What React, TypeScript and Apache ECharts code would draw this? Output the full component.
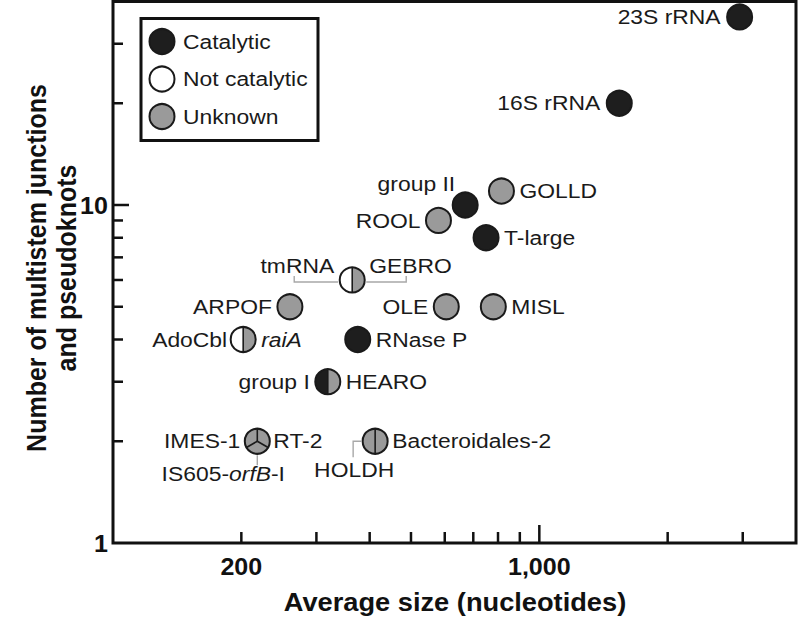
import React, { useEffect, useRef } from "react";
import * as echarts from "echarts";

// ---------- axes ----------
const X_MIN = 100;
const X_MAX = 4000;
const Y_MIN = 1;
const Y_MAX = 40;
const xTicks = [200, 300, 400, 500, 600, 700, 800, 900, 1000, 2000, 3000];
const yTicks = [2, 3, 4, 5, 6, 7, 8, 9, 10, 20, 30];
const xMajorTicks = [1000];
const yMajorTicks = [10];
const xTickLabels = [200, 1000];
const yTickLabels = [1, 10];

// ---------- legend ----------
const legendNames = ["Catalytic", "Not catalytic", "Unknown"];
const legendKeys = ["C", "N", "U"];

// ---------- data (one entry per plotted circle) ----------
const rnaSize = [2950, 1540, 670, 815, 580, 750, 364, 260, 605, 780, 202, 375, 319, 218, 412];
const junctionCount = [36, 20, 10, 11, 9, 8, 6, 5, 5, 5, 4, 4, 3, 2, 2];
const rnaClasses = [
  ["C"], ["C"], ["C"], ["U"], ["U"], ["C"], ["N", "U"], ["U"], ["U"], ["U"],
  ["N", "U"], ["C"], ["C", "U"], ["U", "U", "U"], ["U", "U"],
];
const rnaNames = [
  ["23S rRNA"], ["16S rRNA"], ["group II"], ["GOLLD"], ["ROOL"], ["T-large"],
  ["tmRNA", "GEBRO"], ["ARPOF"], ["OLE"], ["MISL"], ["AdoCbl", "raiA"], ["RNase P"],
  ["group I", "HEARO"], ["IMES-1", "RT-2", "IS605-orfB-I"], ["HOLDH", "Bacteroidales-2"],
];

// ---------- styling ----------
const FONT = "'Liberation Sans', Arial, Helvetica, sans-serif";
const STRETCH = 1.09;
const INK = "#1a1a1a";
const FILL: Record<string, string> = { C: "#1e1e1e", N: "#ffffff", U: "#9a9a9a" };
const R = 12.5;
const LABEL_SIZE = 21;

type Place = { dx: number; dy: number; align: "left" | "right" | "center" };
const labelPlacement: Record<string, Place> = {
  "23S rRNA": { dx: -19, dy: 0, align: "right" },
  "16S rRNA": { dx: -19, dy: 0, align: "right" },
  "group II": { dx: -10, dy: -21, align: "right" },
  GOLLD: { dx: 18, dy: 0, align: "left" },
  ROOL: { dx: -18, dy: 0, align: "right" },
  "T-large": { dx: 18, dy: 0, align: "left" },
  tmRNA: { dx: -18, dy: -14, align: "right" },
  GEBRO: { dx: 17, dy: -14, align: "left" },
  ARPOF: { dx: -18, dy: 0, align: "right" },
  OLE: { dx: -18, dy: 0, align: "right" },
  MISL: { dx: 18, dy: 0, align: "left" },
  AdoCbl: { dx: -16, dy: 0, align: "right" },
  raiA: { dx: 18, dy: 0, align: "left" },
  "RNase P": { dx: 18, dy: 0, align: "left" },
  "group I": { dx: -18, dy: 0, align: "right" },
  HEARO: { dx: 18, dy: 0, align: "left" },
  "IMES-1": { dx: -17, dy: 0, align: "right" },
  "RT-2": { dx: 16, dy: 0, align: "left" },
  "IS605-orfB-I": { dx: -34, dy: 33, align: "center" },
  HOLDH: { dx: -21, dy: 29, align: "center" },
  "Bacteroidales-2": { dx: 17, dy: 0, align: "left" },
};
const labelConnectors: Record<string, number[][]> = {
  tmRNA: [[-14, 2], [-58, 2], [-58, -4]],
  GEBRO: [[14, 2], [54, 2], [54, -4]],
  "IS605-orfB-I": [[0, 14], [0, 24]],
  HOLDH: [[-14, 0], [-22, 0], [-22, 16]],
};
const italicLabels = ["raiA"];
const richLabels: Record<string, string> = { "IS605-orfB-I": "{n|IS605-}{i|orfB}{n|-I}" };

function labelElement(name: string, cx: number, cy: number) {
  const p = labelPlacement[name];
  const rich = richLabels[name];
  const style: any = {
    text: rich || name,
    x: 0,
    y: 0,
    fill: INK,
    fontSize: LABEL_SIZE,
    fontFamily: FONT,
    fontStyle: italicLabels.includes(name) ? "italic" : "normal",
    align: p.align,
    verticalAlign: "middle",
  };
  if (rich) {
    style.rich = {
      n: { fontSize: LABEL_SIZE, fontFamily: FONT, fill: INK },
      i: { fontSize: LABEL_SIZE, fontFamily: FONT, fill: INK, fontStyle: "italic" },
    };
  }
  return { type: "text", x: cx + p.dx, y: cy + p.dy, scaleX: STRETCH, style };
}

function circleParts(cls: string[], cx: number, cy: number) {
  const parts: any[] = [];
  const stroke = { stroke: INK, lineWidth: 2 };
  if (cls.length === 1) {
    parts.push({ type: "circle", shape: { cx, cy, r: R }, style: { fill: FILL[cls[0]], ...stroke } });
    return parts;
  }
  if (cls.length === 2) {
    parts.push({
      type: "sector",
      shape: { cx, cy, r: R, r0: 0, startAngle: Math.PI / 2, endAngle: (3 * Math.PI) / 2, clockwise: true },
      style: { fill: FILL[cls[0]] },
    });
    parts.push({
      type: "sector",
      shape: { cx, cy, r: R, r0: 0, startAngle: -Math.PI / 2, endAngle: Math.PI / 2, clockwise: true },
      style: { fill: FILL[cls[1]] },
    });
    parts.push({ type: "line", shape: { x1: cx, y1: cy - R, x2: cx, y2: cy + R }, style: { stroke: INK, lineWidth: 1.6 } });
  } else {
    parts.push({ type: "circle", shape: { cx, cy, r: R }, style: { fill: FILL[cls[0]] } });
    [(3 * Math.PI) / 2, (5 * Math.PI) / 6, Math.PI / 6].forEach((a) => {
      parts.push({
        type: "line",
        shape: { x1: cx, y1: cy, x2: cx + R * Math.cos(a), y2: cy + R * Math.sin(a) },
        style: { stroke: INK, lineWidth: 1.6 },
      });
    });
  }
  parts.push({ type: "circle", shape: { cx, cy, r: R }, style: { fill: "none", ...stroke } });
  return parts;
}

const fmt = (v: number) => v.toLocaleString("en-US");

export default function App() {
  const ref = useRef<HTMLDivElement>(null);
  useEffect(() => {
    const chart = echarts.init(ref.current!, null, { renderer: "svg" });
    const hiddenAxis = {
      axisLine: { show: false },
      axisTick: { show: false },
      axisLabel: { show: false },
      splitLine: { show: false },
    };
    const legendRowY = [41.5, 79, 116.5];
    const option: any = {
      animation: false,
      backgroundColor: "#ffffff",
      grid: {
        left: 113,
        right: 4,
        top: 1.5,
        bottom: 84,
        show: true,
        borderColor: "#111",
        borderWidth: 3,
        backgroundColor: "transparent",
      },
      xAxis: { type: "log", logBase: 10, min: X_MIN, max: X_MAX, ...hiddenAxis },
      yAxis: { type: "log", logBase: 10, min: Y_MIN, max: Y_MAX, ...hiddenAxis },
      graphic: [
        {
          type: "rect",
          z: 100,
          shape: { x: 141, y: 18.5, width: 177, height: 122 },
          style: { fill: "#ffffff", stroke: "#111", lineWidth: 3 },
        },
        ...legendKeys.map((k, i) => ({
          type: "circle",
          z: 101,
          shape: { cx: 162, cy: legendRowY[i], r: R },
          style: { fill: FILL[k], stroke: INK, lineWidth: 2 },
        })),
        ...legendNames.map((n, i) => ({
          type: "text",
          z: 101,
          x: 183,
          y: legendRowY[i],
          scaleX: STRETCH,
          style: { text: n, fill: INK, fontSize: LABEL_SIZE, fontFamily: FONT, align: "left", verticalAlign: "middle" },
        })),
        {
          type: "text",
          x: 455,
          y: 602,
          scaleX: STRETCH,
          style: {
            text: "Average size (nucleotides)",
            fill: "#111",
            fontSize: 25,
            fontWeight: "bold",
            fontFamily: FONT,
            align: "center",
            verticalAlign: "middle",
          },
        },
        {
          type: "text",
          x: 52,
          y: 268,
          rotation: Math.PI / 2,
          scaleY: STRETCH,
          style: {
            text: "Number of multistem junctions\nand pseudoknots",
            fill: "#111",
            fontSize: 25,
            lineHeight: 27.5,
            fontWeight: "bold",
            fontFamily: FONT,
            align: "center",
            verticalAlign: "middle",
          },
        },
      ],
      series: [
        {
          type: "custom",
          name: "x ticks",
          silent: true,
          clip: false,
          z: 3,
          data: xTicks.map((v) => [v, Y_MIN]),
          renderItem: (_p: any, api: any) => {
            const v = api.value(0);
            const c = api.coord([v, Y_MIN]);
            const len = xMajorTicks.includes(v) ? 18 : 11;
            return { type: "line", shape: { x1: c[0], y1: c[1], x2: c[0], y2: c[1] - len }, style: { stroke: "#111", lineWidth: 2.5 } };
          },
        },
        {
          type: "custom",
          name: "y ticks",
          silent: true,
          clip: false,
          z: 3,
          data: yTicks.map((v) => [X_MIN, v]),
          renderItem: (_p: any, api: any) => {
            const v = api.value(1);
            const c = api.coord([X_MIN, v]);
            const len = yMajorTicks.includes(v) ? 16 : 10;
            return { type: "line", shape: { x1: c[0], y1: c[1], x2: c[0] + len, y2: c[1] }, style: { stroke: "#111", lineWidth: 2.5 } };
          },
        },
        {
          type: "custom",
          name: "x labels",
          silent: true,
          clip: false,
          data: xTickLabels.map((v) => [v, Y_MIN]),
          renderItem: (_p: any, api: any) => {
            const v = api.value(0);
            const c = api.coord([v, Y_MIN]);
            return {
              type: "text",
              x: c[0],
              y: c[1] + 24,
              scaleX: STRETCH,
              style: { text: fmt(v), fill: "#111", fontSize: 23, fontWeight: "bold", fontFamily: FONT, align: "center", verticalAlign: "middle" },
            };
          },
        },
        {
          type: "custom",
          name: "y labels",
          silent: true,
          clip: false,
          data: yTickLabels.map((v) => [X_MIN, v]),
          renderItem: (_p: any, api: any) => {
            const v = api.value(1);
            const c = api.coord([X_MIN, v]);
            return {
              type: "text",
              x: c[0] - 5,
              y: c[1] + 1,
              scaleX: STRETCH,
              style: { text: fmt(v), fill: "#111", fontSize: 23, fontWeight: "bold", fontFamily: FONT, align: "right", verticalAlign: "middle" },
            };
          },
        },
        {
          type: "custom",
          name: "RNA classes",
          clip: false,
          z: 10,
          data: rnaSize.map((s, i) => [s, junctionCount[i]]),
          renderItem: (params: any, api: any) => {
            const i = params.dataIndex;
            const c = api.coord([api.value(0), api.value(1)]);
            const cx = c[0];
            const cy = c[1];
            const children: any[] = [];
            rnaNames[i].forEach((n) => {
              const conn = labelConnectors[n];
              if (conn) {
                children.push({
                  type: "polyline",
                  shape: { points: conn.map(([dx, dy]) => [cx + dx, cy + dy]) },
                  style: { stroke: "#a8a8a8", lineWidth: 1.4, fill: "none" },
                });
              }
            });
            children.push(...circleParts(rnaClasses[i], cx, cy));
            rnaNames[i].forEach((n) => children.push(labelElement(n, cx, cy)));
            return { type: "group", children };
          },
        },
      ],
    };
    chart.setOption(option);
    return () => chart.dispose();
  }, []);
  return (
    <div
      ref={ref}
      style={{ position: "fixed", left: 0, top: 0, width: 800, height: 627, background: "#fff" }}
    />
  );
}
